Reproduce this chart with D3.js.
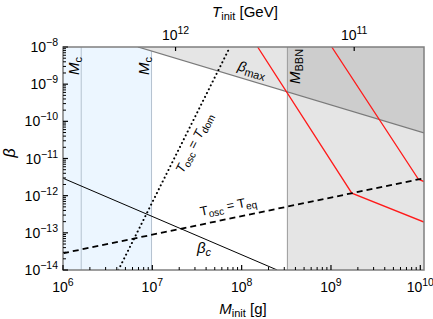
<!DOCTYPE html>
<html><head><meta charset="utf-8">
<script src="https://cdn.jsdelivr.net/npm/d3@7"></script>
<style>body{margin:0;background:#fff}svg{display:block;font-family:"Liberation Sans",Arial,sans-serif}</style>
</head><body><svg id="c" width="433" height="319"></svg>
<script>
// ---- data ----
const xTickVals = [1e6, 1e7, 1e8, 1e9, 1e10];
const xTickExp = ["6", "7", "8", "9", "10"];
const yTickVals = [1e-8, 1e-9, 1e-10, 1e-11, 1e-12, 1e-13, 1e-14];
const yTickExp = ["−8", "−9", "−10", "−11", "−12", "−13", "−14"];
const topTickT = [1e12, 1e11];
const topTickExp = ["12", "11"];
const tConst = Math.pow(10, 15.63); // T_init = tConst / sqrt(M)
const Mc = 1.6e6, Mct = 9.8e6, Mbbn = 3.25e8;
const betaMaxM = [6.9e6, 1.1e10];
const betaMaxB = [1e-8, 4.9e-11];
const betaCM = [1e6, 2.5e8];
const betaCB = [2.95e-12, 1e-14];
const teqM = [1e6, 1.1e10];
const teqB = [2.82e-14, 2.95e-12];
const tdomM = [4.17e6, 7.4e7];
const tdomB = [1e-14, 1e-8];
const red1M = [1.51e8, 1.71e9, 1.1e10];
const red1B = [1e-8, 1.17e-12, 1.95e-13];
const red2M = [1.02e9, 9.53e9, 1.1e10];
const red2B = [1e-8, 2.75e-12, 2.4e-12];

// ---- layout ----
const L = 63, R = 424, T = 47, B = 270;
const xMin = 1e6, xMax = 1.1e10;
const x = d3.scaleLog().domain([xMin, xMax]).range([L, R]);
const y = d3.scaleLog().domain([1e-14, 1e-8]).range([B, T]);
const svg = d3.select("#c");
const zip = (a, b) => a.map((v, i) => [v, b[i]]);
const line = d3.line().x(d => x(d[0])).y(d => y(d[1]));

const defs = svg.append("defs");
defs.append("clipPath").attr("id", "clip").append("rect")
  .attr("x", L).attr("y", T).attr("width", R - L).attr("height", B - T);
const g = svg.append("g").attr("clip-path", "url(#clip)");

// blue region
g.append("rect").attr("x", x(xMin)).attr("y", T).attr("width", x(Mct) - x(xMin)).attr("height", B - T)
  .attr("fill", "#ecf6ff");
[Mc, Mct].forEach(m => g.append("line").attr("x1", x(m)).attr("x2", x(m)).attr("y1", T).attr("y2", B)
  .attr("stroke", "#b4c2d0").attr("stroke-width", 1));

// gray regions
const bmax = zip(betaMaxM, betaMaxB);
const bAt = m => {
  const t = (Math.log10(m) - Math.log10(betaMaxM[0])) / (Math.log10(betaMaxM[1]) - Math.log10(betaMaxM[0]));
  return Math.pow(10, Math.log10(betaMaxB[0]) + t * (Math.log10(betaMaxB[1]) - Math.log10(betaMaxB[0])));
};
g.append("path").attr("d", line([[betaMaxM[0], 1e-8], ...bmax, [betaMaxM[1], 1e-8]]) + "Z").attr("fill", "#e5e5e5");
g.append("rect").attr("x", x(Mbbn)).attr("y", T).attr("width", R - x(Mbbn)).attr("height", B - T).attr("fill", "#e5e5e5");
g.append("path").attr("d", line([[Mbbn, 1e-8], [Mbbn, bAt(Mbbn)], [betaMaxM[1], betaMaxB[1]], [betaMaxM[1], 1e-8]]) + "Z").attr("fill", "#cdcdcd");
g.append("line").attr("x1", x(Mbbn)).attr("x2", x(Mbbn)).attr("y1", T).attr("y2", B).attr("stroke", "#9a9a9a").attr("stroke-width", 1);

// lines
g.append("path").attr("d", line(bmax)).attr("fill", "none").attr("stroke", "#7a7a7a").attr("stroke-width", 1.3);
g.append("path").attr("d", line(zip(red1M, red1B))).attr("fill", "none").attr("stroke", "#ff1a1a").attr("stroke-width", 1.3);
g.append("path").attr("d", line(zip(red2M, red2B))).attr("fill", "none").attr("stroke", "#ff1a1a").attr("stroke-width", 1.3);
g.append("path").attr("d", line(zip(betaCM, betaCB))).attr("fill", "none").attr("stroke", "#000").attr("stroke-width", 1);
g.append("path").attr("d", line(zip(teqM, teqB))).attr("fill", "none").attr("stroke", "#000").attr("stroke-width", 1.8)
  .attr("stroke-dasharray", "6,4");
g.append("path").attr("d", line(zip(tdomM, tdomB))).attr("fill", "none").attr("stroke", "#000").attr("stroke-width", 2)
  .attr("stroke-dasharray", "0.1,4.2").attr("stroke-linecap", "round");

// frame
svg.append("rect").attr("x", L).attr("y", T).attr("width", R - L).attr("height", B - T)
  .attr("fill", "none").attr("stroke", "#7f7f7f").attr("stroke-width", 1.5);

// ticks
const tk = svg.append("g").attr("stroke", "#000");
for (let e = 6; e <= 10; e++) for (let k = 1; k <= 9; k++) {
  const v = k * Math.pow(10, e); if (v > xMax) continue;
  const len = k === 1 ? 5 : 3;
  tk.append("line").attr("x1", x(v)).attr("x2", x(v)).attr("y1", B).attr("y2", B - len).attr("stroke-width", k === 1 ? 1.2 : 1);
}
for (let e = -14; e < -8; e++) for (let k = 1; k <= 9; k++) {
  const v = k * Math.pow(10, e);
  const len = k === 1 ? 5 : 3;
  tk.append("line").attr("x1", L).attr("x2", L + len).attr("y1", y(v)).attr("y2", y(v)).attr("stroke-width", k === 1 ? 1.2 : 1);
}
tk.append("line").attr("x1", L).attr("x2", L + 5).attr("y1", y(1e-8)).attr("y2", y(1e-8));
topTickT.forEach(t => {
  const m = Math.pow(tConst / t, 2);
  tk.append("line").attr("x1", x(m)).attr("x2", x(m)).attr("y1", T).attr("y2", T + 4).attr("stroke-width", 1.2);
});

// tick labels
function pow10(sel, exp) {
  sel.append("tspan").text("10");
  sel.append("tspan").attr("dy", -6).attr("font-size", 10.5).text(exp);
}
xTickVals.forEach((v, i) => {
  const t = svg.append("text").attr("x", x(v)).attr("y", 292).attr("text-anchor", "middle").attr("font-size", 14);
  pow10(t, xTickExp[i]);
});
yTickVals.forEach((v, i) => {
  const t = svg.append("text").attr("x", 58).attr("y", y(v) + 5).attr("text-anchor", "end").attr("font-size", 14);
  pow10(t, yTickExp[i]);
});
topTickT.forEach((tv, i) => {
  const m = Math.pow(tConst / tv, 2);
  const t = svg.append("text").attr("x", x(m)).attr("y", 40).attr("text-anchor", "middle").attr("font-size", 14);
  pow10(t, topTickExp[i]);
});

// axis titles
let t = svg.append("text").attr("x", 243).attr("y", 314).attr("text-anchor", "middle").attr("font-size", 15);
t.append("tspan").attr("font-style", "italic").text("M");
t.append("tspan").attr("font-size", 11).attr("dy", 3).text("init");
t.append("tspan").attr("dy", -3).text(" [g]");
t = svg.append("text").attr("x", 245).attr("y", 17).attr("text-anchor", "middle").attr("font-size", 15);
t.append("tspan").attr("font-style", "italic").text("T");
t.append("tspan").attr("font-size", 11).attr("dy", 3).text("init");
t.append("tspan").attr("dy", -3).text(" [GeV]");
svg.append("text").attr("transform", "translate(15,153) rotate(-90)").attr("text-anchor", "middle")
  .attr("font-size", 16).attr("font-style", "italic").text("β");

// in-plot labels
function vlabel(xp, yp, main, sub) {
  const tt = svg.append("text").attr("transform", `translate(${xp},${yp}) rotate(-90)`).attr("font-size", 15);
  tt.append("tspan").attr("font-style", "italic").text(main);
  tt.append("tspan").attr("font-size", 11).attr("dy", 3).text(sub);
}
vlabel(x(Mc) - 2, 75, "M", "c");
vlabel(x(Mct) - 3, 75, "M", "c");
vlabel(x(Mbbn) + 13, 84, "M", "BBN");

t = svg.append("text").attr("transform", "translate(237,70) rotate(16.5)").attr("font-size", 14);
t.append("tspan").attr("font-style", "italic").text("β");
t.append("tspan").attr("font-size", 11).attr("dy", 3).text("max");

t = svg.append("text").attr("transform", "translate(183,174) rotate(-63)").attr("font-size", 13);
t.append("tspan").attr("font-style", "italic").text("T");
t.append("tspan").attr("font-size", 10).attr("dy", 3).text("osc");
t.append("tspan").attr("dy", -3).text(" = ");
t.append("tspan").attr("font-style", "italic").text("T");
t.append("tspan").attr("font-size", 10).attr("dy", 3).text("dom");

t = svg.append("text").attr("transform", "translate(201,216) rotate(-11.5)").attr("font-size", 13);
t.append("tspan").text("T");
t.append("tspan").attr("font-size", 10).attr("dy", 3).text("osc");
t.append("tspan").attr("dy", -3).text(" = T");
t.append("tspan").attr("font-size", 10).attr("dy", 3).text("eq");

t = svg.append("text").attr("x", 197).attr("y", 253).attr("font-size", 15);
t.append("tspan").attr("font-style", "italic").text("β");
t.append("tspan").attr("font-size", 11).attr("font-style", "italic").attr("dy", 3).text("c");
</script></body></html>
